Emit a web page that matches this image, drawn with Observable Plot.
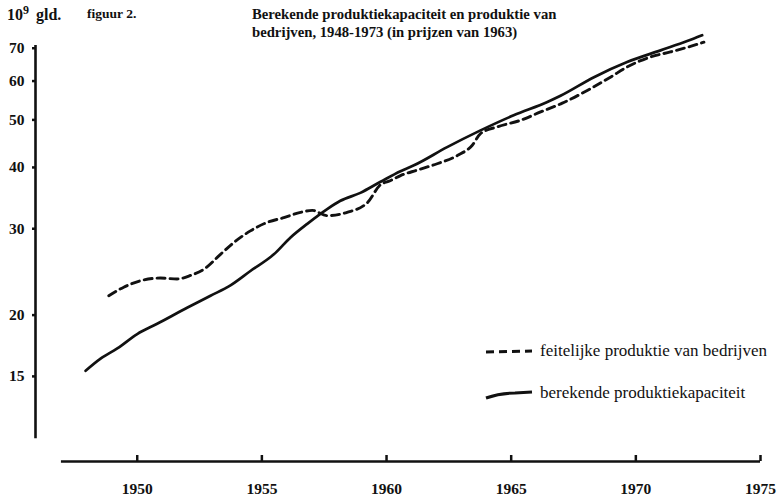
<!DOCTYPE html>
<html>
<head>
<meta charset="utf-8">
<script src="https://cdn.jsdelivr.net/npm/d3@7"></script>
<script src="https://cdn.jsdelivr.net/npm/@observablehq/plot@0.6"></script>
<style>
  body { margin: 0; background: #fff; }
  #wrap { position: relative; width: 779px; height: 498px; font-family: "Liberation Serif", "DejaVu Serif", serif; color: #111; }
  #chart { position: absolute; left: 0; top: 0; }
  .t { position: absolute; white-space: nowrap; line-height: 1; }
  .b { font-weight: bold; }
  #swatch { position: absolute; left: 0; top: 0; }
</style>
</head>
<body>
<div id="wrap">
  <div id="chart"></div>
  <div class="t b" style="left:7px; top:7px; font-size:16px; word-spacing:3px;">10<span style="font-size:12px; position:relative; top:-6px;">9</span> gld.</div>
  <div class="t b" style="left:87px; top:7px; font-size:13.5px;">figuur 2.</div>
  <div class="t b" style="left:252px; top:5px; font-size:14.7px; line-height:18px;">Berekende produktiekapaciteit en produktie van<br>bedrijven, 1948-1973 (in prijzen van 1963)</div>
  <svg id="swatch" width="779" height="498">
    <line x1="486" y1="352" x2="532" y2="351" stroke="#111" stroke-width="3" stroke-dasharray="8,5"></line>
    <path d="M486,398 Q500,393 515,393 L532,392" fill="none" stroke="#111" stroke-width="3"></path>
  </svg>
  <div class="t" style="left:540px; top:342px; font-size:17px;">feitelijke produktie van bedrijven</div>
  <div class="t" style="left:540px; top:384px; font-size:17px;">berekende produktiekapaciteit</div>
</div>
<script>
// berekende produktiekapaciteit (solid line)
const capYears = [1947.93, 1948.53, 1949.2, 1950.0, 1950.8, 1952.0, 1952.94, 1953.74, 1954.54, 1955.48, 1956.15, 1956.82, 1957.62, 1958.15, 1958.95, 1959.76, 1960.56, 1961.1, 1962.43, 1963.77, 1965.1, 1966.45, 1966.98, 1968.32, 1969.65, 1970.99, 1972.06, 1972.66];
const capValues = [15.4, 16.3, 17.1, 18.3, 19.2, 20.7, 21.9, 23.0, 24.6, 26.6, 28.8, 30.7, 32.9, 34.2, 35.5, 37.4, 39.3, 40.4, 44.0, 47.6, 51.1, 54.4, 56.0, 61.1, 65.6, 69.3, 72.4, 74.4];

// feitelijke produktie van bedrijven (dashed line)
const prodYears = [1948.86, 1949.46, 1950.13, 1950.93, 1951.6, 1952.14, 1952.67, 1953.34, 1953.87, 1954.54, 1955.21, 1955.88, 1956.55, 1957.02, 1957.62, 1958.42, 1959.23, 1959.76, 1960.1, 1960.56, 1961.23, 1962.03, 1962.84, 1963.44, 1963.77, 1964.44, 1965.37, 1966.18, 1967.05, 1968.05, 1968.98, 1969.65, 1970.59, 1971.39, 1972.19, 1972.73];
const prodValues = [21.9, 22.8, 23.5, 23.8, 23.7, 24.1, 24.8, 26.6, 28.1, 29.7, 30.9, 31.6, 32.4, 32.7, 31.9, 32.4, 33.9, 36.9, 37.5, 38.5, 39.5, 40.7, 42.3, 44.4, 46.9, 48.4, 49.9, 51.9, 54.1, 57.4, 61.1, 64.1, 67.2, 68.8, 70.6, 72.0];

// axes
const xTicks = [1950, 1955, 1960, 1965, 1970, 1975];
const yTicks = [15, 20, 30, 40, 50, 60, 70];
const xDomain = [1945.92, 1975];
const yDomain = [10.06, 70.9];
const xAxisStart = 1946.96;
const yAxisBottom = 11.2;

const cap = capYears.map((x, i) => ({x, y: capValues[i]}));
const prod = prodYears.map((x, i) => ({x, y: prodValues[i]}));

const chart = Plot.plot({
  width: 779,
  height: 498,
  marginLeft: 35,
  marginRight: 19,
  marginTop: 45,
  marginBottom: 37,
  x: {domain: xDomain},
  y: {type: "log", domain: yDomain},
  style: {fontFamily: "Liberation Serif, DejaVu Serif, serif", fontSize: "15.5px", fontWeight: "bold", color: "#111", background: "transparent"},
  marks: [
    Plot.ruleX([xDomain[0]], {y1: yAxisBottom, y2: yDomain[1], stroke: "#111", strokeWidth: 2.6}),
    Plot.ruleY([yDomain[0]], {x1: xAxisStart, x2: xDomain[1], stroke: "#111", strokeWidth: 2.6}),
    Plot.axisY({ticks: yTicks, tickSize: 3, tickPadding: 8, label: null, tickFormat: d => String(d), strokeWidth: 2.5}),
    Plot.axisX({ticks: xTicks, tickSize: -6, tickPadding: 27, label: null, tickFormat: d => String(d), strokeWidth: 2.5}),
    Plot.line(cap, {x: "x", y: "y", curve: "monotone-x", stroke: "#111", strokeWidth: 2.7}),
    Plot.line(prod, {x: "x", y: "y", curve: "monotone-x", stroke: "#111", strokeWidth: 2.9, strokeDasharray: "8,5"})
  ]
});
document.getElementById("chart").appendChild(chart);
</script>
</body>
</html>
